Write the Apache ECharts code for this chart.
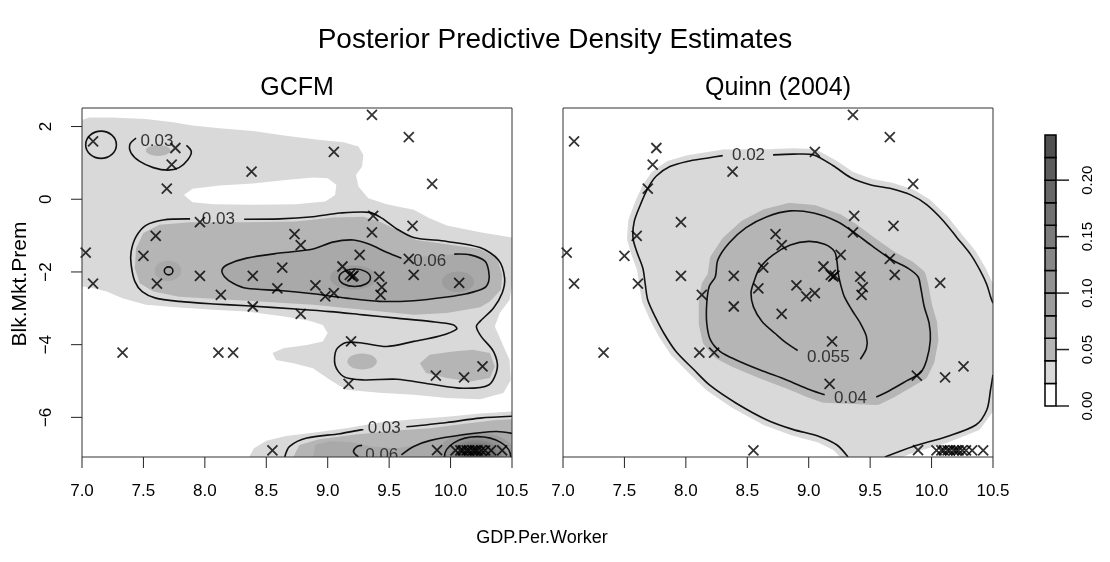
<!DOCTYPE html>
<html><head><meta charset="utf-8">
<script src="https://cdn.jsdelivr.net/npm/echarts@6/dist/echarts.min.js"></script>
<style>html,body{margin:0;padding:0;background:#fff}#c{width:1110px;height:562px}</style>
</head><body><div id="c"></div>
<script>
// ---------- axis values ----------
const X_RANGE = [7, 10.5];
const X_TICKS = [7.0, 7.5, 8.0, 8.5, 9.0, 9.5, 10.0, 10.5];
const Y_RANGE = [-7.09, 2.51];
const Y_TICKS = [-6, -4, -2, 0, 2];
const BAR_RANGE = [0, 0.24];
const BAR_TICKS = [0, 0.05, 0.10, 0.15, 0.20];
const BAND_EDGES = [0, 0.02, 0.04, 0.06, 0.08, 0.10, 0.12, 0.14, 0.16, 0.18, 0.20, 0.22, 0.24];

// ---------- observed points (same in both panels) ----------
const POINTS = [
 [7.09,1.59],[7.76,1.41],[7.73,0.95],[7.69,0.29],[8.38,0.76],[9.05,1.30],[9.36,2.32],[9.66,1.71],[9.85,0.42],
 [7.96,-0.63],[7.60,-1.01],[7.03,-1.47],[7.50,-1.56],[9.37,-0.46],[9.36,-0.91],[9.69,-0.73],[8.73,-0.96],[8.78,-1.26],
 [9.26,-1.53],[9.66,-1.64],[9.70,-2.08],[10.07,-2.30],[9.12,-1.85],[9.18,-2.08],[9.20,-2.13],[9.21,-2.10],[9.42,-2.13],
 [8.63,-1.88],[8.39,-2.11],[7.96,-2.11],[7.09,-2.32],[7.61,-2.32],[8.13,-2.63],[8.39,-2.95],[8.59,-2.45],[8.90,-2.37],
 [8.98,-2.67],[9.05,-2.58],[8.78,-3.15],[9.19,-3.91],[9.17,-5.08],[9.44,-2.42],[9.43,-2.63],
 [7.33,-4.22],[8.11,-4.22],[8.23,-4.22],[9.88,-4.85],[10.11,-4.90],[10.26,-4.60],
 [8.55,-6.91],[9.89,-6.90],[10.04,-6.91],[10.08,-6.91],[10.10,-6.91],[10.13,-6.91],[10.15,-6.91],[10.18,-6.91],
 [10.20,-6.91],[10.22,-6.91],[10.25,-6.91],[10.28,-6.91],[10.33,-6.91],[10.42,-6.91]
];

// ---------- GCFM density regions (data coords) ----------
const GCFM_LIGHT = [
 [7.00,2.18],[7.06,2.25],[7.25,2.25],[7.52,2.21],[7.74,2.12],[7.90,2.03],[8.12,1.95],[8.39,1.88],[8.66,1.75],[8.94,1.63],
 [9.13,1.57],[9.25,1.45],[9.29,1.22],[9.28,0.90],[9.23,0.67],[9.25,0.35],[9.33,0.03],[9.48,-0.14],[9.70,-0.29],[9.83,-0.52],
 [9.97,-0.72],[10.24,-0.91],[10.50,-1.05],[10.50,-2.36],[10.48,-2.77],[10.40,-3.13],[10.36,-3.50],[10.42,-3.96],[10.48,-4.42],
 [10.49,-4.97],[10.43,-5.33],[10.24,-5.50],[9.97,-5.47],[9.70,-5.38],[9.42,-5.32],[9.15,-5.24],[9.02,-4.97],[8.88,-4.65],
 [8.72,-4.51],[8.58,-4.42],[8.55,-4.23],[8.64,-4.10],[8.83,-4.01],[8.96,-3.91],[9.00,-3.68],[8.96,-3.46],[8.85,-3.34],
 [8.66,-3.23],[8.34,-3.09],[8.07,-3.04],[7.79,-2.98],[7.52,-2.90],[7.33,-2.72],[7.20,-2.54],[7.06,-2.42],[7.00,-2.40]
];
const GCFM_HOLE = [
 [7.83,0.12],[7.90,0.29],[8.12,0.38],[8.39,0.43],[8.66,0.53],[8.88,0.60],[9.00,0.58],[9.07,0.40],[9.06,0.12],
 [8.98,-0.06],[8.74,-0.14],[8.39,-0.15],[8.07,-0.14],[7.90,-0.08]
];
const GCFM_LIGHT_BOTTOM = [
 [8.36,-7.09],[8.40,-6.85],[8.50,-6.64],[8.66,-6.51],[8.88,-6.42],[9.15,-6.30],[9.42,-6.14],[9.70,-6.05],
 [9.97,-5.98],[10.24,-5.89],[10.50,-5.84],[10.50,-7.09]
];
const GCFM_MED_MAIN = [
 [7.44,-1.35],[7.50,-0.93],[7.63,-0.70],[7.88,-0.63],[8.34,-0.63],[8.74,-0.61],[9.04,-0.50],[9.29,-0.48],[9.42,-0.61],
 [9.59,-0.89],[9.72,-1.12],[9.97,-1.24],[10.24,-1.37],[10.38,-1.62],[10.42,-2.08],[10.41,-2.49],[10.32,-2.81],[10.24,-2.97],
 [9.97,-3.13],[9.70,-3.18],[9.29,-3.04],[8.88,-2.90],[8.34,-2.79],[7.79,-2.68],[7.58,-2.54],[7.47,-2.31],[7.43,-1.90]
];
const GCFM_MED_LOBE = [
 [9.75,-4.51],[9.83,-4.28],[10.02,-4.19],[10.18,-4.14],[10.32,-4.23],[10.36,-4.60],[10.32,-4.92],[10.16,-5.01],[9.97,-4.92],[9.80,-4.78]
];
const GCFM_MED_BOTTOM = [
 [8.72,-7.09],[8.77,-6.76],[8.93,-6.60],[9.21,-6.48],[9.56,-6.36],[9.83,-6.30],[10.10,-6.18],[10.37,-6.07],[10.50,-6.05],[10.50,-7.09]
];
const GCFM_DARK_BOTTOM = [
 [8.88,-7.09],[8.90,-6.75],[9.02,-6.66],[9.18,-6.68],[9.35,-6.80],[9.55,-6.85],[9.70,-6.78],[9.83,-6.62],
 [10.10,-6.46],[10.37,-6.38],[10.50,-6.42],[10.50,-7.09]
];
// blobs: [cx, cy, rx, ry, band index]
const GCFM_BLOBS_MED = [
 [7.62,1.34,0.10,0.15,2],[9.28,-4.46,0.12,0.22,2]
];
const GCFM_BLOBS_DARK = [
 [7.70,-1.97,0.11,0.28,3],[9.21,-2.15,0.19,0.33,4],[10.06,-2.27,0.13,0.28,4],
 [10.21,-7.09,0.33,0.68,4],[10.21,-7.09,0.25,0.54,5],[10.21,-7.09,0.21,0.46,6],[10.21,-7.09,0.18,0.39,7],
 [10.21,-7.09,0.15,0.32,8],[10.21,-7.09,0.12,0.26,9],[10.21,-7.09,0.09,0.19,10],[10.21,-7.09,0.06,0.12,11]
];

// ---------- GCFM contour lines ----------
const GCFM_C03_TL = [[7.44,1.68],[7.39,1.51],[7.40,1.27],[7.47,1.04],[7.58,0.87],[7.70,0.80],[7.79,0.87],[7.86,1.08],[7.89,1.31],[7.85,1.48]];
const GCFM_C03_MAIN = [
 [8.32,-0.55],[8.61,-0.54],[8.88,-0.48],[9.10,-0.38],[9.34,-0.36],[9.44,-0.52],[9.56,-0.81],[9.70,-1.05],[9.97,-1.16],
 [10.24,-1.33],[10.39,-1.67],[10.44,-2.17],[10.42,-2.58],[10.35,-2.99],[10.24,-3.36],[10.21,-3.50],[10.25,-3.78],[10.35,-4.19],
 [10.38,-4.65],[10.31,-5.11],[10.10,-5.20],[9.83,-5.08],[9.56,-4.95],[9.29,-4.97],[9.13,-4.88],[9.06,-4.56],[9.07,-4.14],
 [9.15,-3.94],[9.29,-3.96],[9.48,-4.05],[9.70,-3.91],[9.91,-3.76],[10.05,-3.57],[10.02,-3.45],[9.83,-3.36],[9.56,-3.27],
 [9.29,-3.18],[9.02,-3.09],[8.74,-3.02],[8.34,-2.93],[8.07,-2.88],[7.79,-2.81],[7.60,-2.72],[7.49,-2.54],[7.43,-2.26],
 [7.40,-1.80],[7.40,-1.44],[7.44,-1.03],[7.52,-0.72],[7.66,-0.57],[7.88,-0.54]
];
const GCFM_C06_MAIN = [
 [10.03,-1.51],[10.16,-1.53],[10.28,-1.70],[10.31,-1.97],[10.31,-2.26],[10.27,-2.45],[10.13,-2.60],[9.97,-2.69],[9.70,-2.79],
 [9.42,-2.81],[9.15,-2.72],[8.88,-2.60],[8.61,-2.51],[8.34,-2.45],[8.23,-2.31],[8.16,-2.13],[8.14,-1.94],[8.19,-1.79],
 [8.34,-1.62],[8.61,-1.48],[8.88,-1.37],[9.04,-1.18],[9.21,-1.12],[9.34,-1.24],[9.48,-1.46],[9.60,-1.62]
];
const GCFM_C03_BOT_A = [[8.65,-7.09],[8.69,-6.80],[8.83,-6.57],[9.10,-6.45],[9.29,-6.33]];
const GCFM_C03_BOT_B = [[9.64,-6.26],[9.97,-6.14],[10.24,-6.02],[10.50,-5.97]];
const GCFM_C06_BOT_A = [[9.25,-7.09],[9.21,-6.94],[9.24,-6.80],[9.28,-6.77]];
const GCFM_C06_BOT_B = [[9.60,-7.03],[9.70,-6.80],[9.83,-6.64],[10.10,-6.48],[10.37,-6.39],[10.50,-6.44]];
// closed ring contours: [cx, cy, rx, ry]
const GCFM_RINGS = [[7.155,1.50,0.125,0.375],[7.705,-1.97,0.035,0.11],[9.22,-2.16,0.128,0.24],[10.22,-7.09,0.27,0.56]];
const GCFM_LABEL_POS = [[7.61,1.59],[8.11,-0.56],[9.83,-1.71],[9.46,-6.30],[9.44,-7.03]];
const GCFM_LABEL_TEXT = ['0.03','0.03','0.06','0.03','0.06'];

// ---------- Quinn (2004) contours ----------
const QUINN_C02_A = [[8.71,1.22],[8.87,1.24],[9.04,1.22],[9.20,0.92],[9.34,0.60],[9.50,0.40],[9.66,0.30],[9.83,0.12],[9.96,-0.15],
 [10.10,-0.61],[10.21,-1.07],[10.32,-1.53],[10.40,-1.99],[10.45,-2.35],[10.48,-2.68],[10.50,-2.86]];
const QUINN_C02_B = [[10.50,-4.83],[10.48,-5.24],[10.45,-5.79],[10.36,-6.21],[10.12,-6.53],[9.85,-6.80],[9.62,-7.09]];
const QUINN_C02_C = [[9.32,-7.09],[9.23,-6.76],[9.09,-6.53],[8.87,-6.33],[8.66,-6.07],[8.41,-5.61],[8.20,-5.13],[8.06,-4.67],
 [7.92,-4.19],[7.82,-3.68],[7.75,-3.23],[7.69,-2.77],[7.67,-2.35],[7.65,-1.90],[7.60,-1.44],[7.57,-1.07],[7.58,-0.61],
 [7.63,-0.15],[7.69,0.30],[7.76,0.64],[7.87,0.90],[8.01,1.04],[8.17,1.13],[8.30,1.20]];
const QUINN_C04 = [[9.55,-5.44],[9.66,-5.26],[9.80,-4.99],[9.91,-4.77],[9.96,-4.42],[9.99,-3.87],[9.98,-3.41],[9.94,-2.95],
 [9.91,-2.40],[9.89,-2.13],[9.81,-1.90],[9.68,-1.67],[9.51,-1.27],[9.36,-0.89],[9.23,-0.61],[9.04,-0.38],[8.85,-0.32],
 [8.66,-0.48],[8.49,-0.78],[8.35,-1.21],[8.26,-1.67],[8.24,-2.13],[8.19,-2.40],[8.17,-2.86],[8.17,-3.41],[8.20,-3.87],
 [8.28,-4.19],[8.41,-4.42],[8.60,-4.69],[8.82,-4.97],[9.01,-5.24],[9.13,-5.38]];
const QUINN_C055 = [[9.42,-4.40],[9.47,-4.10],[9.47,-3.78],[9.42,-3.41],[9.35,-3.04],[9.29,-2.68],[9.26,-2.35],[9.24,-2.04],
 [9.23,-1.71],[9.21,-1.44],[9.13,-1.24],[9.00,-1.16],[8.85,-1.26],[8.71,-1.53],[8.60,-1.90],[8.55,-2.31],[8.53,-2.58],
 [8.55,-2.96],[8.62,-3.36],[8.73,-3.70],[8.82,-3.96],[8.91,-4.16]];
const QUINN_LABEL_POS = [[8.51,1.22],[9.34,-5.47],[9.16,-4.34]];
const QUINN_LABEL_TEXT = ['0.02','0.04','0.055'];

// ---------- styles ----------
const GRAYS = ['#ffffff','#d9d9d9','#b5b5b5','#a9a9a9','#9d9d9d','#929292','#878787','#7c7c7c','#717171','#676767','#5c5c5c','#505050'];
const FONT = 'Liberation Sans, Arial, Helvetica, sans-serif';
const LINE_COLOR = '#111';

function clipOf(params){ const c = params.coordSys; return {type:'rect', shape:{x:c.x, y:c.y, width:c.width, height:c.height}}; }
let zc = 1;
function polySeries(g, pts, band, grow){
  return {type:'custom', xAxisIndex:g, yAxisIndex:g, z: zc++, silent:true, data: pts,
    renderItem(params, api){
      if (params.dataIndex !== 0) return;
      const P = pts.map(p => api.coord(p));
      return {type:'polygon', shape:{points:P},
        style:{fill:GRAYS[band], stroke: grow ? GRAYS[band] : null, lineWidth: grow || 0, lineJoin:'round'},
        clipPath: clipOf(params)};
    }};
}
function blobSeries(g, list){
  return {type:'custom', xAxisIndex:g, yAxisIndex:g, z: zc++, silent:true, data: list,
    renderItem(params, api){
      const c = api.coord([api.value(0), api.value(1)]);
      const s = api.size([api.value(2), api.value(3)]);
      return {type:'ellipse', shape:{cx:c[0], cy:c[1], rx:s[0], ry:s[1]},
        style:{fill:GRAYS[api.value(4)]}, clipPath: clipOf(params)};
    }};
}
function lineSeries(g, pts){
  return {type:'custom', xAxisIndex:g, yAxisIndex:g, z: 50, silent:true, data: pts,
    renderItem(params, api){
      if (params.dataIndex !== 0) return;
      const P = pts.map(p => api.coord(p));
      return {type:'polyline', shape:{points:P, smooth:0.3},
        style:{stroke:LINE_COLOR, lineWidth:1.6, fill:null}, clipPath: clipOf(params)};
    }};
}
function ringSeries(g, list){
  return {type:'custom', xAxisIndex:g, yAxisIndex:g, z: 50, silent:true, data: list,
    renderItem(params, api){
      const c = api.coord([api.value(0), api.value(1)]);
      const s = api.size([api.value(2), api.value(3)]);
      return {type:'ellipse', shape:{cx:c[0], cy:c[1], rx:s[0], ry:s[1]},
        style:{fill:null, stroke:LINE_COLOR, lineWidth:1.6}, clipPath: clipOf(params)};
    }};
}
function labelSeries(g, pos, texts){
  return {type:'custom', xAxisIndex:g, yAxisIndex:g, z: 55, silent:true, data: pos,
    renderItem(params, api){
      const c = api.coord([api.value(0), api.value(1)]);
      return {type:'text',
        style:{x:c[0], y:c[1], text:texts[params.dataIndex], fill:'#333', font:'17px ' + FONT, align:'center', verticalAlign:'middle'},
        clipPath: clipOf(params)};
    }};
}
function boxSeries(g){
  return {type:'custom', xAxisIndex:g, yAxisIndex:g, z: 70, silent:true, data: [[X_RANGE[0], Y_RANGE[0]]],
    renderItem(params){
      const c = params.coordSys;
      return {type:'rect', shape:{x:c.x, y:c.y, width:c.width, height:c.height},
        style:{fill:null, stroke:'#333', lineWidth:1}};
    }};
}
function scatterSeries(g){
  return {type:'scatter', xAxisIndex:g, yAxisIndex:g, z: 60, silent:true, data: POINTS,
    symbol:'path://M0,0L10,10M10,0L0,10', symbolSize:10,
    itemStyle:{color:'rgba(0,0,0,0)', borderColor:'#000', borderWidth:1.8}};
}
// tick marks drawn inside thin strip grids that share the panel scales
// vertical: tick values lie on the strip's x axis; horizontal: on its y axis
function tickStripSeries(g, values, vertical, width){
  return {type:'custom', xAxisIndex:g, yAxisIndex:g, z: 80, silent:true,
    data: values.map(v => vertical ? [v, 0.5] : [0.5, v]),
    renderItem(params, api){
      let a, b;
      if (vertical) { const v = api.value(0); a = api.coord([v, 0]); b = api.coord([v, 1]); }
      else { const v = api.value(1); a = api.coord([0, v]); b = api.coord([1, v]); }
      return {type:'polyline', shape:{points:[a, b]}, style:{stroke:'#222', lineWidth:width, fill:null}};
    }};
}

const series = [];
// GCFM panel (grid 0)
series.push(polySeries(0, GCFM_LIGHT, 1, 0));
series.push(polySeries(0, GCFM_LIGHT_BOTTOM, 1, 0));
series.push(polySeries(0, GCFM_HOLE, 0, 0));
series.push(polySeries(0, GCFM_MED_MAIN, 2, 0));
series.push(polySeries(0, GCFM_MED_LOBE, 2, 0));
series.push(polySeries(0, GCFM_MED_BOTTOM, 2, 0));
series.push(blobSeries(0, GCFM_BLOBS_MED));
series.push(polySeries(0, GCFM_C06_MAIN, 3, 0));
series.push(polySeries(0, GCFM_DARK_BOTTOM, 3, 0));
series.push(blobSeries(0, GCFM_BLOBS_DARK));
[GCFM_C03_TL, GCFM_C03_MAIN, GCFM_C06_MAIN, GCFM_C03_BOT_A, GCFM_C03_BOT_B, GCFM_C06_BOT_A, GCFM_C06_BOT_B]
  .forEach(p => series.push(lineSeries(0, p)));
series.push(ringSeries(0, GCFM_RINGS));
series.push(labelSeries(0, GCFM_LABEL_POS, GCFM_LABEL_TEXT));
series.push(scatterSeries(0));
series.push(boxSeries(0));
// Quinn panel (grid 1)
series.push(polySeries(1, QUINN_C02_A.concat(QUINN_C02_B, QUINN_C02_C), 1, 12));
series.push(polySeries(1, QUINN_C04, 2, 16));
[QUINN_C02_A, QUINN_C02_B, QUINN_C02_C].forEach(p => series.push(lineSeries(1, p)));
series.push(lineSeries(1, QUINN_C04));
series.push(lineSeries(1, QUINN_C055));
series.push(labelSeries(1, QUINN_LABEL_POS, QUINN_LABEL_TEXT));
series.push(scatterSeries(1));
series.push(boxSeries(1));
// colour key (grid 2)
const BANDS = BAND_EDGES.slice(0, -1).map((lo, i) => [lo, BAND_EDGES[i + 1]]);
series.push({type:'custom', xAxisIndex:2, yAxisIndex:2, z:10, silent:true, data: BANDS,
  encode:{x:-1, y:[0,1]},
  renderItem(params, api){
    const p0 = api.coord([0, api.value(1)]);
    const p1 = api.coord([1, api.value(0)]);
    return {type:'rect', shape:{x:p0[0], y:p0[1], width:p1[0]-p0[0], height:p1[1]-p0[1]},
      style:{fill:GRAYS[params.dataIndex], stroke:'#000', lineWidth:1.5}};
  }});
// tick strips (grids 3..6)
series.push(tickStripSeries(3, X_TICKS, true, 1));
series.push(tickStripSeries(4, X_TICKS, true, 1));
series.push(tickStripSeries(5, Y_TICKS, false, 1));
series.push(tickStripSeries(6, BAR_TICKS, false, 1.5));

const minus = v => (v < 0 ? '\u2212' + Math.abs(v) : String(v));
const xAxisCommon = {type:'value', min:X_RANGE[0], max:X_RANGE[1], interval:0.5,
  axisLine:{show:false, onZero:false}, splitLine:{show:false}, axisTick:{show:false},
  axisLabel:{fontSize:17, fontFamily:FONT, color:'#000', margin:26, formatter:v => v.toFixed(1)}};
const hiddenUnit = {type:'value', min:0, max:1, show:false};

const option = {
  animation:false,
  backgroundColor:'#fff',
  grid:[
    {left:82, top:108, width:430, height:349},
    {left:563, top:108, width:430, height:349},
    {left:1045, top:135, width:11, height:271},
    {left:82, top:457, width:430, height:11},
    {left:563, top:457, width:430, height:11},
    {left:71, top:108, width:11, height:349},
    {left:1056, top:135, width:13, height:271}
  ],
  xAxis:[
    Object.assign({gridIndex:0, position:'bottom'}, xAxisCommon),
    Object.assign({gridIndex:1, position:'bottom'}, xAxisCommon),
    Object.assign({gridIndex:2}, hiddenUnit),
    {gridIndex:3, type:'value', min:X_RANGE[0], max:X_RANGE[1], show:false},
    {gridIndex:4, type:'value', min:X_RANGE[0], max:X_RANGE[1], show:false},
    Object.assign({gridIndex:5}, hiddenUnit),
    Object.assign({gridIndex:6}, hiddenUnit)
  ],
  yAxis:[
    {gridIndex:0, type:'value', position:'left', min:Y_RANGE[0], max:Y_RANGE[1],
     axisLine:{show:false, onZero:false}, splitLine:{show:false}, axisTick:{show:false},
     axisLabel:{customValues:Y_TICKS, rotate:90, fontSize:17, fontFamily:FONT, color:'#000', margin:27, formatter:minus}},
    {gridIndex:1, type:'value', min:Y_RANGE[0], max:Y_RANGE[1], show:false},
    {gridIndex:2, type:'value', min:BAR_RANGE[0], max:BAR_RANGE[1], position:'right',
     axisLine:{show:false, onZero:false}, splitLine:{show:false}, axisTick:{show:false},
     axisLabel:{customValues:BAR_TICKS, rotate:90, fontSize:15, fontFamily:FONT, color:'#000', margin:24, formatter:v => v.toFixed(2)}},
    Object.assign({gridIndex:3}, hiddenUnit),
    Object.assign({gridIndex:4}, hiddenUnit),
    {gridIndex:5, type:'value', min:Y_RANGE[0], max:Y_RANGE[1], show:false},
    {gridIndex:6, type:'value', min:BAR_RANGE[0], max:BAR_RANGE[1], show:false}
  ],
  graphic:[
    {type:'text', x:555, y:40, style:{text:'Posterior Predictive Density Estimates', font:'28px ' + FONT, fill:'#000', align:'center', verticalAlign:'middle'}},
    {type:'text', x:297, y:88, style:{text:'GCFM', font:'25px ' + FONT, fill:'#000', align:'center', verticalAlign:'middle'}},
    {type:'text', x:778, y:88, style:{text:'Quinn (2004)', font:'25px ' + FONT, fill:'#000', align:'center', verticalAlign:'middle'}},
    {type:'text', x:542, y:538, style:{text:'GDP.Per.Worker', font:'18px ' + FONT, fill:'#000', align:'center', verticalAlign:'middle'}},
    {type:'text', x:20, y:284, rotation:Math.PI/2, style:{text:'Blk.Mkt.Prem', font:'21px ' + FONT, fill:'#000', align:'center', verticalAlign:'middle'}}
  ],
  series: series
};
const chart = echarts.init(document.getElementById('c'));
chart.setOption(option);
</script>
</body></html>
